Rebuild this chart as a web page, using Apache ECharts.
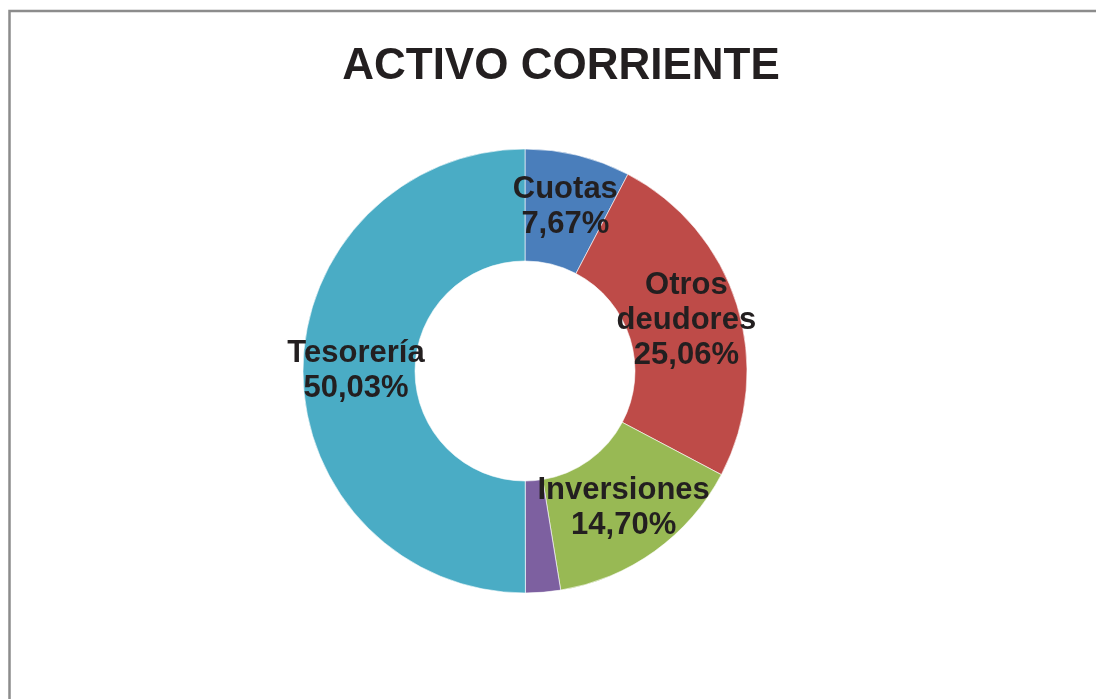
<!DOCTYPE html>
<html>
<head>
<meta charset="utf-8">
<script src="https://cdn.jsdelivr.net/npm/echarts@6/dist/echarts.min.js"></script>
<style>
  html, body { margin: 0; padding: 0; background: #fff; }
  #main { width: 1096px; height: 699px; }
</style>
</head>
<body>
<div id="main"></div>
<script>
    // datos del grafico
    var categories = ['Cuotas', 'Otros deudores', 'Inversiones', 'Otros', 'Tesorería'];
    var values = [7.67, 25.06, 14.70, 2.54, 50.03];
    var colors = ['#4a7ebb', '#be4b48', '#98b954', '#7d60a0', '#4aacc5'];
    var hiddenLabels = ['Otros'];

    var chart = echarts.init(document.getElementById('main'));

    var pieData = [];
    categories.forEach(function (name, i) {
        pieData.push({
            name: name,
            value: values[i],
            itemStyle: { color: colors[i] },
            label: { show: hiddenLabels.indexOf(name) < 0 }
        });
    });

    var option = {
        backgroundColor: '#fff',
        animation: false,
        title: {
            text: 'ACTIVO CORRIENTE',
            left: 556,
            top: 62,
            textAlign: 'center',
            textVerticalAlign: 'middle',
            textStyle: {
                fontFamily: 'Liberation Sans',
                fontWeight: 'bold',
                fontSize: 44,
                color: '#231f20'
            }
        },
        graphic: [{
            type: 'rect',
            shape: { x: 9.5, y: 11, width: 1200, height: 800 },
            style: { fill: 'none', stroke: '#8c8c8c', lineWidth: 2.5 },
            silent: true
        }],
        series: [{
            type: 'pie',
            center: [525, 371],
            radius: [110, 222],
            startAngle: 90,
            clockwise: true,
            itemStyle: { borderColor: '#fff', borderWidth: 0.6 },
            label: {
                position: 'inside',
                fontFamily: 'Liberation Sans',
                fontWeight: 'bold',
                fontSize: 31,
                lineHeight: 35,
                color: '#231f20',
                formatter: function (p) {
                    return p.name.replace(' ', '\n') + '\n' + p.value.toFixed(2).replace('.', ',') + '%';
                }
            },
            labelLine: { show: false },
            emphasis: { disabled: true },
            data: pieData
        }]
    };

    chart.setOption(option);
</script>
</body>
</html>
